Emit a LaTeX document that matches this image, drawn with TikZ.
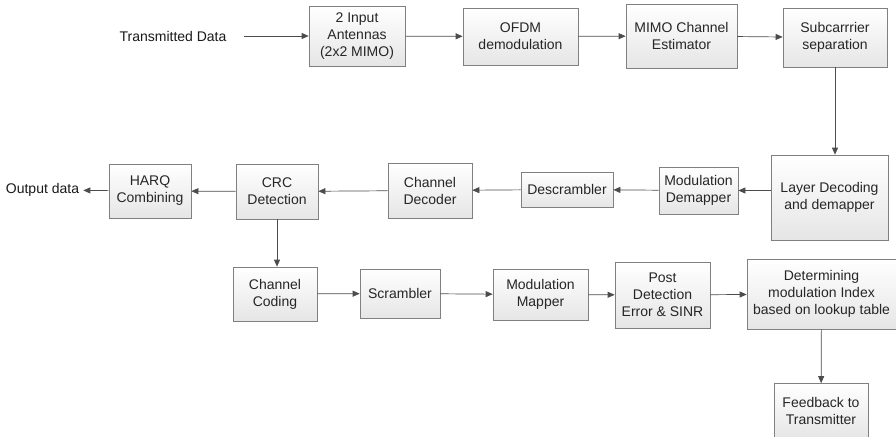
\documentclass[tikz,border=0pt]{standalone}
\usepackage{fontspec}
\setmainfont{Liberation Sans}
\usetikzlibrary{arrows.meta,shadows}

\begin{document}
\begin{tikzpicture}[x=1pt,y=-1pt]
\tikzset{blok/.style={draw=black!50, line width=0.7pt, top color=white, bottom color=black!10,
    drop shadow={shadow xshift=1.2pt, shadow yshift=-1.2pt, fill=black!45, opacity=0.6},
    align=center, inner sep=1pt, font=\fontsize{14}{17}\selectfont, text=black!85},
  etiq/.style={font=\fontsize{14}{17}\selectfont, text=black!90},
  fleche/.style={draw=black!70, line width=0.7pt, -{Triangle[length=7pt,width=6pt]}}}
\useasboundingbox (0,0) rectangle (896,436);
% receiver chain, top row
\node[etiq, inner xsep=17pt] (TD) at (173,36) {Transmitted Data};
\node[blok, minimum width=96, minimum height=60] (ANT) at (357,36) {2 Input\\Antennas\\(2x2 MIMO)};
\node[blok, minimum width=115, minimum height=57] (OFDM) at (520.5,36.5) {OFDM\\demodulation};
\node[blok, minimum width=111, minimum height=64] (EST) at (681.5,36) {MIMO Channel\\Estimator};
\node[blok, minimum width=104, minimum height=59] (SUB) at (835,37.5) {Subcarrrier\\separation};
% middle row, right to left
\node[blok, minimum width=117, minimum height=85] (LAY) at (829.5,197.5) {Layer Decoding\\and demapper};
\node[blok, minimum width=79, minimum height=47] (DEM) at (698.5,190.5) {Modulation\\Demapper};
\node[blok, minimum width=92, minimum height=35] (DSC) at (567,189.5) {Descrambler};
\node[blok, minimum width=84, minimum height=55] (DEC) at (430,190.5) {Channel\\Decoder};
\node[blok, minimum width=82, minimum height=55] (CRC) at (277,191.5) {CRC\\Detection};
\node[blok, minimum width=82, minimum height=54] (HARQ) at (150,191) {HARQ\\Combining};
\node[etiq, inner xsep=4pt] (OUT) at (42.5,190) {Output data};
% feedback path, bottom row
\node[blok, minimum width=84, minimum height=54] (COD) at (275,294) {Channel\\Coding};
\node[blok, minimum width=80, minimum height=49] (SCR) at (400,293.5) {Scrambler};
\node[blok, minimum width=95, minimum height=51] (MAP) at (540.5,294.5) {Modulation\\Mapper};
\node[blok, minimum width=95, minimum height=66] (POST) at (662.5,295) {Post\\Detection\\Error \& SINR};
\node[blok, minimum width=149, minimum height=70] (MCS) at (821.5,294) {Determining\\modulation Index\\based on lookup table};
\node[blok, minimum width=94, minimum height=55] (FB) at (821,411) {Feedback to\\Transmitter};

\draw[fleche] (TD) -- (ANT);
\draw[fleche] (ANT) -- (OFDM);
\draw[fleche] (OFDM) -- (EST);
\draw[fleche] (EST) -- (SUB);
\draw[fleche] (SUB.south) -- (SUB.south |- LAY.north);
\draw[fleche] (LAY.west |- DEM) -- (DEM);
\draw[fleche] (DEM) -- (DSC);
\draw[fleche] (DSC) -- (DEC);
\draw[fleche] (DEC) -- (CRC);
\draw[fleche] (CRC) -- (HARQ);
\draw[fleche] (HARQ) -- (OUT);
\draw[fleche] (CRC.south) -- (CRC.south |- COD.north);
\draw[fleche] (COD) -- (SCR);
\draw[fleche] (SCR) -- (MAP);
\draw[fleche] (MAP) -- (POST);
\draw[fleche] (POST) -- (MCS);
\draw[fleche] (MCS) -- (FB);
\end{tikzpicture}
\end{document}
